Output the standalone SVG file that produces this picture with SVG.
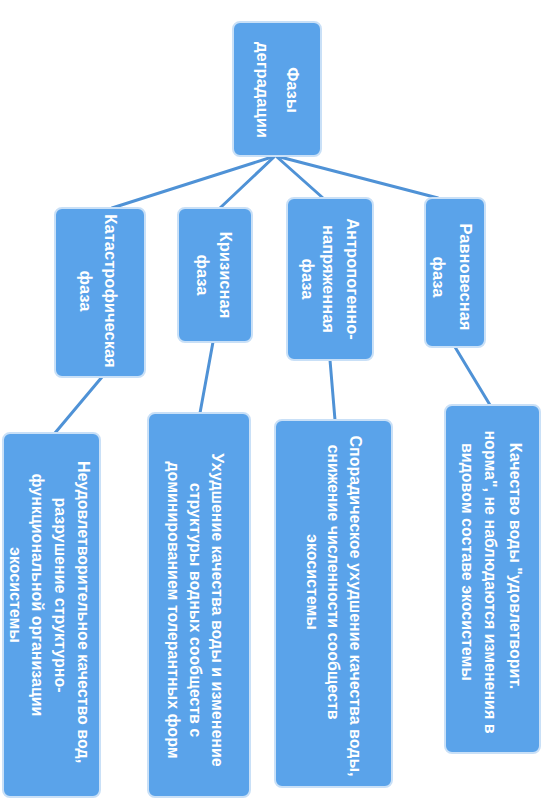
<svg xmlns="http://www.w3.org/2000/svg" width="555" height="805" viewBox="0 0 555 805">
<style>
.box{fill:#5aa3ea;stroke:#c9e0f7;stroke-width:2}
.t{font-family:"Liberation Sans",Arial,sans-serif;font-weight:bold;fill:#ffffff;text-anchor:middle}
.p{font-size:16.5px}
.l{font-size:16px}
.c{stroke:#4f92d6;stroke-width:3;fill:none;stroke-linecap:round}
</style>
<rect width="555" height="805" fill="#ffffff"/>
<g id="connectors">
<line class="c" x1="272" y1="157" x2="112" y2="208"/>
<line class="c" x1="274" y1="157" x2="220" y2="208"/>
<line class="c" x1="277" y1="157" x2="323" y2="198"/>
<line class="c" x1="280" y1="157" x2="438" y2="198"/>
<line class="c" x1="102" y1="377" x2="55" y2="433"/>
<line class="c" x1="213" y1="342" x2="200" y2="413"/>
<line class="c" x1="330" y1="360" x2="335" y2="420"/>
<line class="c" x1="455" y1="347" x2="490" y2="405"/>
</g>
<g id="root">
<rect class="box" x="233" y="22" width="88" height="134" rx="7"/>
<text class="t p" transform="translate(287,90) rotate(90)">Фазы</text>
<text class="t p" transform="translate(257,90) rotate(90)">деградации</text>
</g>
<g id="phase-catastrophic">
<rect class="box" x="55" y="208" width="90" height="169" rx="7"/>
<text class="t p" transform="translate(105,291) rotate(90)">Катастрофическая</text>
<text class="t p" transform="translate(80,291) rotate(90)">фаза</text>
</g>
<g id="phase-crisis">
<rect class="box" x="178" y="208" width="74" height="134" rx="7"/>
<text class="t p" transform="translate(220,275) rotate(90)">Кризисная</text>
<text class="t p" transform="translate(197,275) rotate(90)">фаза</text>
</g>
<g id="phase-anthropogenic">
<rect class="box" x="287" y="198" width="86" height="162" rx="7"/>
<text class="t p" transform="translate(347,279) rotate(90)">Антропогенно-</text>
<text class="t p" transform="translate(323,279) rotate(90)">напряженная</text>
<text class="t p" transform="translate(302,279) rotate(90)">фаза</text>
</g>
<g id="phase-equilibrium">
<rect class="box" x="425" y="198" width="60" height="149" rx="7"/>
<text class="t p" transform="translate(460,277) rotate(90)">Равновесная</text>
<text class="t p" transform="translate(433,277) rotate(90)">фаза</text>
</g>
<g id="leaf-catastrophic">
<rect class="box" x="3" y="433" width="97" height="364" rx="7"/>
<text class="t l" transform="translate(78,612) rotate(90)">Неудовлетворительное качество вод,</text>
<text class="t l" transform="translate(55,595) rotate(90)">разрушение структурно-</text>
<text class="t l" transform="translate(32,595) rotate(90)">функциональной организации</text>
<text class="t l" transform="translate(10,595) rotate(90)">экосистемы</text>
</g>
<g id="leaf-crisis">
<rect class="box" x="148" y="413" width="102" height="384" rx="7"/>
<text class="t l" transform="translate(212,610) rotate(90)">Ухудшение качества воды и изменение</text>
<text class="t l" transform="translate(190,610) rotate(90)">структуры водных сообществ с</text>
<text class="t l" transform="translate(168,610) rotate(90)">доминированием толерантных форм</text>
</g>
<g id="leaf-anthropogenic">
<rect class="box" x="275" y="420" width="117" height="367" rx="7"/>
<text class="t l" transform="translate(350,606) rotate(90)">Спорадическое ухудшение качества воды,</text>
<text class="t l" transform="translate(328,582) rotate(90)">снижение численности сообществ</text>
<text class="t l" transform="translate(307,582) rotate(90)">экосистемы</text>
</g>
<g id="leaf-equilibrium">
<rect class="box" x="445" y="405" width="95" height="348" rx="7"/>
<text class="t l" transform="translate(510,566) rotate(90)">Качество воды "удовлетворит.</text>
<text class="t l" transform="translate(485,582) rotate(90)">норма", не наблюдаются изменения в</text>
<text class="t l" transform="translate(462,562) rotate(90)">видовом составе экосистемы</text>
</g>
</svg>
